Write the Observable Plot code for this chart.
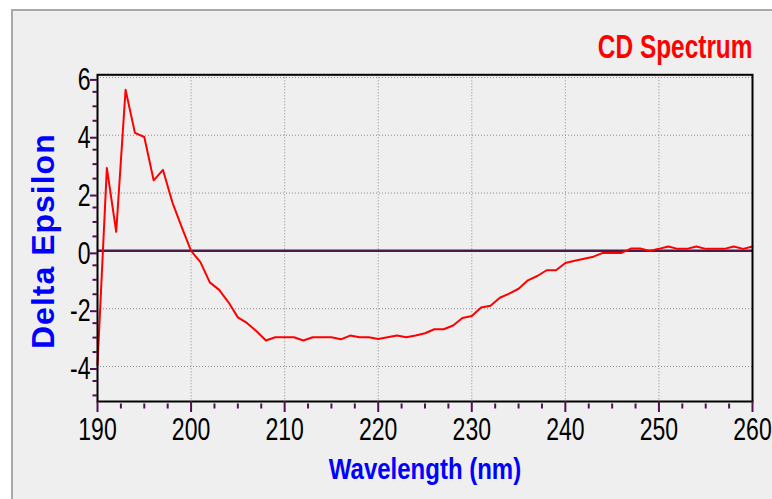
<!DOCTYPE html>
<html>
<head>
<meta charset="utf-8">
<script src="https://cdn.jsdelivr.net/npm/d3@7"></script>
<script src="https://cdn.jsdelivr.net/npm/@observablehq/plot@0.6"></script>
<style>
  html, body { margin: 0; padding: 0; background: #ffffff; }
  #wrap { position: relative; width: 772px; height: 499px; overflow: hidden; }
  #panel {
    position: absolute; left: 11px; top: 9px; width: 800px; height: 520px;
    background: #efefef; border-left: 2px solid #a9a9a9; border-top: 2px solid #a9a9a9;
  }
  #chart { position: absolute; left: 0; top: 0; }
</style>
</head>
<body>
<div id="wrap"><div id="panel"></div><div id="chart"></div></div>
<script>
// CD spectrum: wavelength (nm) and delta epsilon
const wavelength = [
  190, 191, 192, 193, 194, 195, 196, 197, 198, 199,
  200, 201, 202, 203, 204, 205, 206, 207, 208, 209,
  210, 211, 212, 213, 214, 215, 216, 217, 218, 219,
  220, 221, 222, 223, 224, 225, 226, 227, 228, 229,
  230, 231, 232, 233, 234, 235, 236, 237, 238, 239,
  240, 241, 242, 243, 244, 245, 246, 247, 248, 249,
  250, 251, 252, 253, 254, 255, 256, 257, 258, 259, 260
];
const deltaEpsilon = [
  -3.95, 2.87, 0.66, 5.57, 4.08, 3.94, 2.44, 2.80, 1.68, 0.82,
  0.00, -0.39, -1.09, -1.35, -1.78, -2.30, -2.50, -2.78, -3.10, -2.99,
  -2.99, -2.99, -3.10, -2.99, -2.99, -2.99, -3.06, -2.93, -2.99, -2.99,
  -3.05, -2.99, -2.93, -2.99, -2.93, -2.85, -2.71, -2.71, -2.58, -2.32,
  -2.25, -1.96, -1.90, -1.62, -1.48, -1.31, -1.02, -0.87, -0.67, -0.67,
  -0.42, -0.34, -0.27, -0.20, -0.07, -0.07, -0.07, 0.08, 0.08, 0.00,
  0.07, 0.15, 0.07, 0.07, 0.15, 0.07, 0.07, 0.07, 0.15, 0.07, 0.15
];

const xTicks = [190, 200, 210, 220, 230, 240, 250, 260];
const xMinorTicks = [192.5, 195, 197.5, 202.5, 205, 207.5, 212.5, 215, 217.5, 222.5, 225, 227.5,
  232.5, 235, 237.5, 242.5, 245, 247.5, 252.5, 255, 257.5];
const xGrid = [200, 210, 220, 230, 240, 250];
const yTicks = [-4, -2, 0, 2, 4, 6];
const yMinorTicks = [-5, -4.5, -3.5, -3, -2.5, -1.5, -1, -0.5, 0.5, 1, 1.5, 2.5, 3, 3.5, 4.5, 5, 5.5];
const yGrid = [-4, -2, 2, 4, 6];

const titleText = "CD Spectrum";
const xLabel = "Wavelength (nm)";
const yLabel = "Delta Epsilon";

const spectrum = wavelength.map((w, i) => ({wavelength: w, value: deltaEpsilon[i]}));

const tickColor = "#520f52";

const chart = Plot.plot({
  width: 772,
  height: 499,
  marginLeft: 97,
  marginRight: 20,
  marginTop: 74.3,
  marginBottom: 98,
  style: {background: "transparent", fontFamily: "'Liberation Sans', Arial, sans-serif"},
  x: {domain: [190, 260]},
  y: {domain: [-5.21, 6.09]},
  marks: [
    Plot.gridX(xGrid, {stroke: "#8c8c8c", strokeOpacity: 1, strokeDasharray: "1,2"}),
    Plot.gridY(yGrid, {stroke: "#8c8c8c", strokeOpacity: 1, strokeDasharray: "1,2"}),
    Plot.ruleY([0], {stroke: "#4b1b4b", strokeWidth: 2.5}),
    Plot.line(spectrum, {x: "wavelength", y: "value", stroke: "#ff0000", strokeWidth: 2}),
    Plot.frame({stroke: "#000000", strokeWidth: 2}),
    Plot.axisX(xTicks, {
      anchor: "bottom", tickSize: 11, tickPadding: 5, stroke: tickColor, strokeWidth: 2,
      fill: "#000000", fontSize: 32, label: null, tickFormat: d => String(d)
    }),
    Plot.axisX(xMinorTicks, {
      anchor: "bottom", tickSize: 5, dy: 2.5, stroke: tickColor, strokeWidth: 2,
      label: null, tickFormat: () => ""
    }),
    Plot.axisY(yTicks, {
      anchor: "left", tickSize: 7, tickPadding: 0, dy: 2.5, stroke: tickColor, strokeWidth: 2,
      fill: "#000000", fontSize: 32, label: null, tickFormat: d => String(d)
    }),
    Plot.axisY(yMinorTicks, {
      anchor: "left", tickSize: 4.5, stroke: tickColor, strokeWidth: 2,
      label: null, tickFormat: () => ""
    }),
    Plot.text([titleText], {
      text: d => d, frameAnchor: "top-right", lineAnchor: "bottom", textAnchor: "end",
      dy: -17, fill: "#ff0000", fontSize: 33, fontWeight: "bold"
    }),
    Plot.text([xLabel], {
      text: d => d, frameAnchor: "bottom", lineAnchor: "top", textAnchor: "middle",
      dy: 55.7, fill: "#0000ff", fontSize: 30, fontWeight: "bold"
    }),
    Plot.text([yLabel], {
      text: d => d, frameAnchor: "left", lineAnchor: "bottom", textAnchor: "middle", rotate: -90,
      dx: -44, dy: 3, fill: "#0000ff", fontSize: 32, fontWeight: "bold"
    })
  ]
});

// Condense horizontal lettering
function squeeze(selection, k) {
  selection.each(function() {
    let t = this.getAttribute("transform");
    if (!t) {
      const x = +this.getAttribute("x") || 0;
      const y = +this.getAttribute("y") || 0;
      this.removeAttribute("x");
      this.removeAttribute("y");
      t = `translate(${x},${y})`;
    }
    this.setAttribute("transform", `${t} scale(${k},1)`);
  });
}
const svg = d3.select(chart);
const byContent = s => svg.selectAll("text").filter(function() { return this.textContent === s; });
squeeze(svg.selectAll('g[aria-label="x-axis tick label"] text'), 0.72);
squeeze(svg.selectAll('g[aria-label="y-axis tick label"] text'), 0.72);
squeeze(byContent(titleText), 0.74);
squeeze(byContent(xLabel), 0.8);
byContent(yLabel).style("letter-spacing", "1px");

document.getElementById("chart").appendChild(chart);
</script>
</body>
</html>
